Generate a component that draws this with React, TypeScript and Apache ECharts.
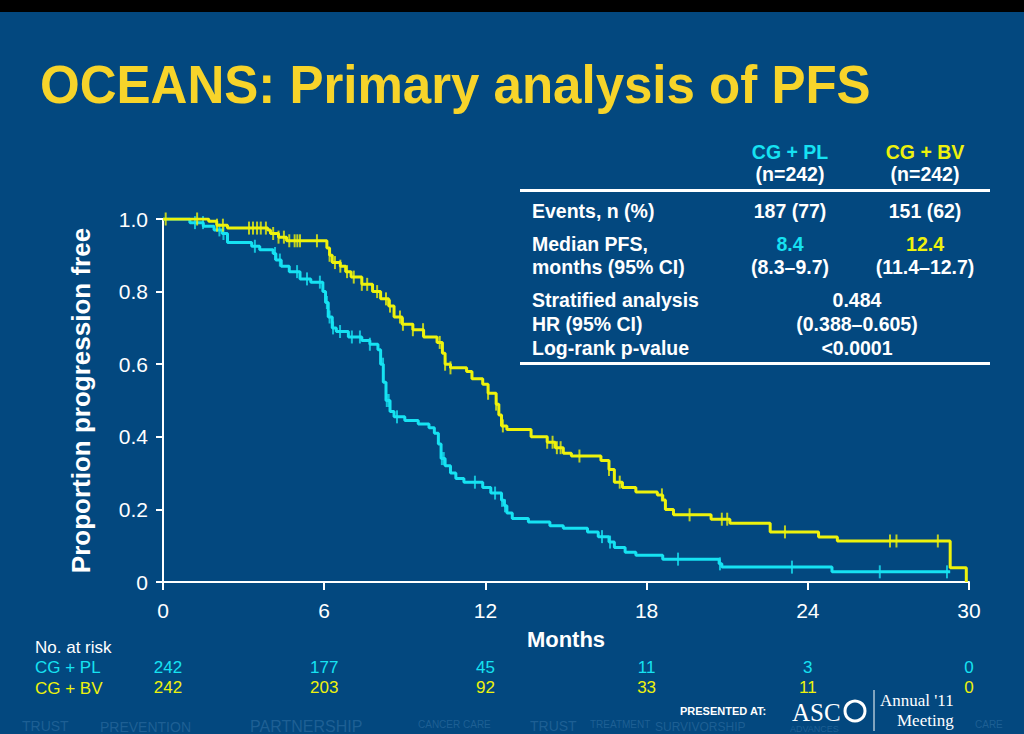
import React, { useEffect, useRef } from "react";
import * as echarts from "echarts";

// ---- data ----
const xTicks = [0, 6, 12, 18, 24, 30];
const yTicks = [0, 0.2, 0.4, 0.6, 0.8, 1.0];

// Kaplan-Meier step points [month, proportion]
const kmPL: [number, number][] = [
  [0, 1.0], [1.0, 0.99], [1.5, 0.98], [1.9, 0.97], [2.2, 0.96], [2.4, 0.935], [3.3, 0.925],
  [3.6, 0.915], [4.1, 0.905], [4.2, 0.887], [4.4, 0.87], [4.7, 0.855], [5.1, 0.835],
  [5.5, 0.826], [5.95, 0.8], [6.05, 0.77], [6.15, 0.73], [6.3, 0.7], [6.45, 0.69],
  [6.9, 0.675], [7.4, 0.665], [7.7, 0.655], [8.0, 0.64], [8.1, 0.6], [8.2, 0.55], [8.3, 0.5],
  [8.45, 0.47], [8.6, 0.455], [9.0, 0.445], [9.5, 0.435], [9.9, 0.425], [10.1, 0.41],
  [10.25, 0.38], [10.35, 0.34], [10.5, 0.32], [10.7, 0.3], [10.9, 0.285], [11.2, 0.275],
  [11.9, 0.26], [12.2, 0.245], [12.6, 0.225], [12.7, 0.21], [12.8, 0.19], [13.0, 0.175],
  [13.6, 0.165], [14.4, 0.155], [14.9, 0.148], [15.8, 0.138], [16.2, 0.125], [16.6, 0.11],
  [16.8, 0.095], [17.2, 0.082], [17.6, 0.074], [18.6, 0.063], [20.7, 0.05], [20.8, 0.041],
  [24.9, 0.028], [29.3, 0.028],
];
const kmBV: [number, number][] = [
  [0, 1.0], [1.7, 0.994], [2.0, 0.983], [2.4, 0.975], [3.9, 0.97], [4.0, 0.96], [4.3, 0.95],
  [4.6, 0.94], [6.1, 0.92], [6.2, 0.9], [6.3, 0.88], [6.6, 0.87], [6.8, 0.855], [7.0, 0.84],
  [7.4, 0.82], [7.8, 0.8], [8.1, 0.78], [8.4, 0.76], [8.6, 0.73], [8.9, 0.71], [9.3, 0.695],
  [9.7, 0.675], [10.2, 0.66], [10.4, 0.63], [10.5, 0.6], [10.7, 0.59], [11.3, 0.58],
  [11.5, 0.56], [11.9, 0.545], [12.1, 0.52], [12.4, 0.49], [12.5, 0.46], [12.6, 0.43],
  [12.8, 0.42], [13.7, 0.4], [14.3, 0.385], [14.6, 0.37], [14.9, 0.355], [15.2, 0.347],
  [16.3, 0.335], [16.6, 0.31], [16.8, 0.275], [17.1, 0.26], [17.6, 0.248], [18.4, 0.24],
  [18.6, 0.226], [18.7, 0.2], [19.0, 0.185], [20.4, 0.173], [21.1, 0.162], [22.6, 0.138],
  [24.4, 0.124], [25.1, 0.113], [29.3, 0.039], [29.9, 0.0],
];

// censoring times (months)
const censorPL = [
  1.19, 1.49, 2.1, 2.25, 3.42, 4.17, 4.35, 4.99, 5.36, 5.84, 6.1, 6.2, 6.33, 6.59, 7.03,
  7.33, 7.7, 8.19, 8.33, 8.4, 8.71, 10.38, 10.45, 11.61, 12.36, 12.62, 12.73, 16.34,
  16.64, 19.17, 20.73, 23.41, 26.68, 29.18,
];
const censorBV = [
  0.1, 1.27, 2.01, 2.23, 3.2, 3.35, 3.5, 3.64, 3.83, 4.1, 4.3, 4.5, 4.7, 4.9, 5.0, 5.1,
  5.73, 6.2, 6.4, 6.6, 6.85, 7.1, 7.4, 7.6, 7.97, 8.3, 8.45, 8.82, 8.93, 9.3, 9.68, 10.3,
  10.5, 10.7, 12.1, 12.4, 12.65, 14.3, 14.5, 14.66, 14.8, 15.5, 16.6, 17.0, 18.57, 19.6,
  20.8, 21.0, 23.15, 27.06, 27.3, 28.84,
];

const atRiskPL = [242, 177, 45, 11, 3, 0];
const atRiskBV = [242, 203, 92, 33, 11, 0];

const tableHeader = [
  ["CG + PL", "(n=242)"],
  ["CG + BV", "(n=242)"],
];
const tableRows = [
  { label: ["Events, n (%)"], pl: ["187 (77)"], bv: ["151 (62)"] },
  { label: ["Median PFS,", "months (95% CI)"], pl: ["8.4", "(8.3–9.7)"], bv: ["12.4", "(11.4–12.7)"] },
];
const hrLabels = ["Stratified analysis", "HR (95% CI)", "Log-rank p-value"];
const hrValues = ["0.484", "(0.388–0.605)", "<0.0001"];
const watermark = [
  "TRUST", "PREVENTION", "PARTNERSHIP", "CANCER CARE", "TRUST", "TREATMENT", "SURVIVORSHIP", "ADVANCES", "CARE",
];

const BG = "#03487f";
const CYAN = "#16e2f2";
const YELLOW = "#eef20c";
const GOLD = "#f7d42a";
const WHITE = "#ffffff";
const FONT = "'Liberation Sans', Arial, sans-serif";
const NARROW = "'Liberation Sans Narrow', 'Liberation Sans', Arial, sans-serif";
const SERIF = "'Liberation Serif', serif";

function valueAt(km: [number, number][], t: number): number {
  let v = km[0][1];
  for (const [m, s] of km) {
    if (m <= t) v = s;
    else break;
  }
  return v;
}

export default function App() {
  const ref = useRef<HTMLDivElement>(null);
  useEffect(() => {
    if (!ref.current) return;
    const chart = echarts.init(ref.current, null, { renderer: "svg" });
    const base: any = {
      animation: false,
      backgroundColor: BG,
      grid: { left: 163, right: 55, top: 219, bottom: 152, containLabel: false },
      xAxis: {
        type: "value",
        min: 0,
        max: 30,
        interval: 6,
        name: "Months",
        nameLocation: "middle",
        nameGap: 46,
        nameTextStyle: { color: WHITE, fontSize: 22, fontWeight: "bold", fontFamily: NARROW },
        axisLine: { show: true, onZero: false, lineStyle: { color: WHITE, width: 2 } },
        axisTick: { show: true, inside: false, length: 8, lineStyle: { color: WHITE, width: 2 } },
        axisLabel: { color: WHITE, fontSize: 21, fontFamily: NARROW, margin: 18 },
        splitLine: { show: false },
      },
      yAxis: {
        type: "value",
        min: 0,
        max: 1,
        interval: 0.2,
        name: "Proportion progression free",
        nameLocation: "middle",
        nameRotate: 90,
        nameGap: 69,
        nameTextStyle: { color: WHITE, fontSize: 26, fontWeight: "bold", fontFamily: FONT },
        axisLine: { show: true, onZero: false, lineStyle: { color: WHITE, width: 2 } },
        axisTick: { show: true, inside: false, length: 7, lineStyle: { color: WHITE, width: 2 } },
        axisLabel: {
          color: WHITE,
          fontSize: 21,
          fontFamily: FONT,
          margin: 15,
          formatter: (v: number) => (v === 0 ? "0" : v.toFixed(1)),
        },
        splitLine: { show: false },
      },
      series: [
        {
          type: "line",
          step: "end",
          data: kmPL,
          showSymbol: false,
          lineStyle: { color: CYAN, width: 3 },
          z: 2,
        },
        {
          type: "scatter",
          data: censorPL.map((t) => [t, valueAt(kmPL, t)]),
          symbol: "rect",
          symbolSize: [2, 13],
          itemStyle: { color: CYAN },
          z: 3,
        },
        {
          type: "line",
          step: "end",
          data: kmBV,
          showSymbol: false,
          lineStyle: { color: YELLOW, width: 3 },
          z: 4,
        },
        {
          type: "scatter",
          data: censorBV.map((t) => [t, valueAt(kmBV, t)]),
          symbol: "rect",
          symbolSize: [2, 13],
          itemStyle: { color: YELLOW },
          z: 5,
        },
      ],
    };
    chart.setOption(base);

    const px = (m: number) => chart.convertToPixel({ xAxisIndex: 0 }, m) as number;
    const txt = (
      text: string,
      x: number,
      y: number,
      fill: string,
      size: number,
      align: string = "left",
      weight: string = "bold",
      family: string = FONT,
      extra: any = {},
      el: any = {}
    ) => ({
      type: "text",
      x,
      y,
      silent: true,
      ...el,
      style: {
        text,
        fill,
        fontSize: size,
        fontWeight: weight,
        fontFamily: family,
        textAlign: align,
        textVerticalAlign: "middle",
        ...extra,
      },
    });

    const g: any[] = [];
    // top black band
    g.push({ type: "rect", shape: { x: 0, y: 0, width: 1024, height: 12 }, style: { fill: "#000" } });
    // title
    g.push(txt("OCEANS: Primary analysis of PFS", 40, 84, GOLD, 54, "left", "bold", FONT, {}, { scaleX: 0.945 }));

    // table
    const colPL = 790;
    const colBV = 925;
    const TS = 19.5;
    g.push(txt(tableHeader[0][0], colPL, 152, CYAN, TS, "center"));
    g.push(txt(tableHeader[0][1], colPL, 174, WHITE, TS, "center"));
    g.push(txt(tableHeader[1][0], colBV, 152, YELLOW, TS, "center"));
    g.push(txt(tableHeader[1][1], colBV, 174, WHITE, TS, "center"));
    g.push({ type: "rect", shape: { x: 520, y: 189, width: 470, height: 3 }, style: { fill: WHITE } });
    g.push(txt(tableRows[0].label[0], 532, 211, WHITE, TS));
    g.push(txt(tableRows[0].pl[0], colPL, 211, WHITE, TS, "center"));
    g.push(txt(tableRows[0].bv[0], colBV, 211, WHITE, TS, "center"));
    g.push(txt(tableRows[1].label[0], 532, 244, WHITE, TS));
    g.push(txt(tableRows[1].label[1], 532, 267, WHITE, TS));
    g.push(txt(tableRows[1].pl[0], colPL, 244, CYAN, TS, "center"));
    g.push(txt(tableRows[1].pl[1], colPL, 267, WHITE, TS, "center"));
    g.push(txt(tableRows[1].bv[0], colBV, 244, YELLOW, TS, "center"));
    g.push(txt(tableRows[1].bv[1], colBV, 267, WHITE, TS, "center"));
    hrLabels.forEach((l, i) => g.push(txt(l, 532, 300 + i * 24, WHITE, TS)));
    hrValues.forEach((v, i) => g.push(txt(v, 857, 300 + i * 24, WHITE, TS, "center")));
    g.push({ type: "rect", shape: { x: 520, y: 362, width: 470, height: 3 }, style: { fill: WHITE } });

    // number at risk
    g.push(txt("No. at risk", 35, 647, WHITE, 17, "left", "normal", NARROW));
    g.push(txt("CG + PL", 35, 667, CYAN, 17, "left", "normal", NARROW));
    g.push(txt("CG + BV", 35, 688, YELLOW, 17, "left", "normal", NARROW));
    xTicks.forEach((m, i) => {
      const x = px(m) + (i === 0 ? 5 : 0);
      g.push(txt(String(atRiskPL[i]), x, 667, CYAN, 17, "center", "normal", NARROW));
      g.push(txt(String(atRiskBV[i]), x, 687, YELLOW, 17, "center", "normal", NARROW));
    });

    // faint watermark words along the bottom edge
    const wmX = [22, 100, 250, 418, 530, 590, 655, 790, 975];
    const wmY = [726, 727, 726, 724, 726, 724, 727, 729, 724];
    const wmS = [14, 14, 16, 10, 14, 10, 12, 9, 10];
    watermark.forEach((w, i) =>
      g.push(txt(w, wmX[i], wmY[i], "#2a6a9e", wmS[i], "left", "normal", FONT, { opacity: 0.7 }))
    );

    // presented at logo
    g.push(txt("PRESENTED AT:", 680, 711, WHITE, 11, "left", "bold", FONT));
    g.push(txt("ASC", 792, 712, WHITE, 25, "left", "normal", SERIF));
    g.push({ type: "circle", shape: { cx: 855, cy: 711, r: 10 }, style: { fill: "none", stroke: WHITE, lineWidth: 3 } });
    g.push({ type: "line", shape: { x1: 874, y1: 690, x2: 874, y2: 731 }, style: { stroke: WHITE, lineWidth: 1 } });
    g.push(txt("Annual '11", 880, 700, WHITE, 17, "left", "normal", SERIF));
    g.push(txt("Meeting", 897, 720, WHITE, 17, "left", "normal", SERIF));

    chart.setOption({ graphic: { elements: g } });

    return () => chart.dispose();
  }, []);
  return (
    <div
      ref={ref}
      style={{ position: "fixed", left: 0, top: 0, width: 1024, height: 734, background: BG }}
    />
  );
}
